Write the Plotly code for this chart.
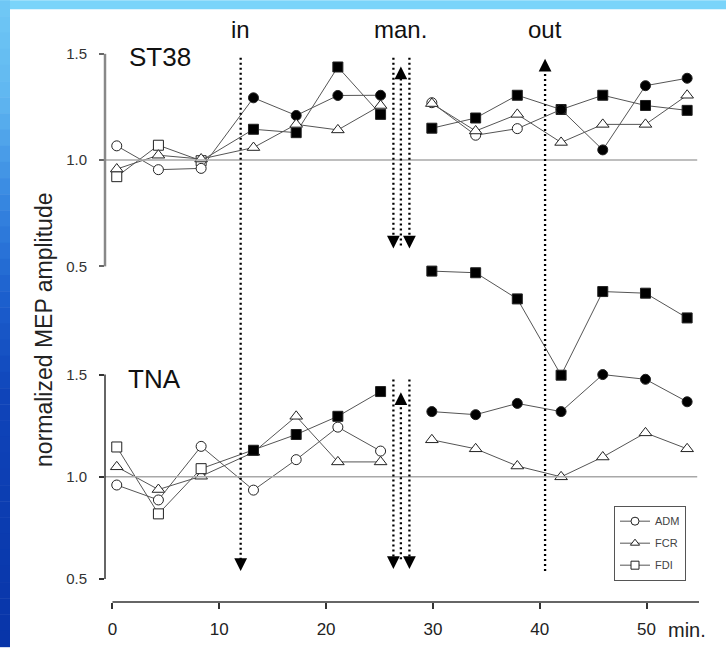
import plotly.graph_objects as go

# ---------------- data ----------------
t_pre = [0.4, 4.3, 8.3, 13.2, 17.2, 21.1, 25.1]
t_post = [29.9, 34.0, 37.9, 42.0, 45.9, 49.9, 53.8]

# ST38 (upper panel)
st38_adm_pre = [1.067, 0.955, 0.961, 1.293, 1.210, 1.304, 1.305]
st38_adm_post = [1.270, 1.117, 1.148, 1.238, 1.048, 1.350, 1.385]
st38_fcr_pre = [0.958, 1.023, 1.005, 1.059, 1.168, 1.142, 1.257]
st38_fcr_post = [1.266, 1.137, 1.215, 1.083, 1.168, 1.168, 1.305]
st38_fdi_pre = [0.922, 1.070, 0.997, 1.145, 1.129, 1.438, 1.215]
st38_fdi_post = [1.150, 1.198, 1.305, 1.238, 1.305, 1.257, 1.234]
st38_adm_sig = [0, 0, 0, 1, 1, 1, 1] + [0, 0, 0, 1, 1, 1, 1]
st38_fcr_sig = [0] * 14
st38_fdi_sig = [0, 0, 0, 1, 1, 1, 1] + [1] * 7

# TNA (lower panel)
tna_adm_pre = [0.960, 0.887, 1.149, 0.935, 1.084, 1.243, 1.126]
tna_adm_post = [1.319, 1.304, 1.359, 1.319, 1.500, 1.477, 1.367]
tna_fcr_pre = [1.049, 0.938, 1.003, 1.120, 1.296, 1.073, 1.073]
tna_fcr_post = [1.181, 1.137, 1.053, 1.000, 1.097, 1.215, 1.137]
tna_fdi_pre = [1.146, 0.819, 1.040, 1.130, 1.207, 1.296, 1.417]
tna_fdi_post = [2.006, 1.998, 1.870, 1.497, 1.906, 1.898, 1.777]
tna_adm_sig = [0] * 7 + [1] * 7
tna_fcr_sig = [0] * 14
tna_fdi_sig = [0, 0, 0, 1, 1, 1, 1] + [1] * 7

muscles = ["ADM", "FCR", "FDI"]
x_ticks = [0, 10, 20, 30, 40, 50]
y_ticks = [0.5, 1.0, 1.5]
event_labels = ["in", "man.", "out"]
event_times = [12.0, 27.0, 40.5]
man_side_times = [26.3, 27.8]

# ---------------- style ----------------
FONT = "Liberation Sans, Arial, sans-serif"
LINE_C = "#555555"
EDGE_C = "#222222"
symbols = {"ADM": "circle", "FCR": "triangle-up", "FDI": "square"}
sizes = {"ADM": 10, "FCR": 11, "FDI": 10}

fig = go.Figure()


def add_series(name, pre, post, sig, yaxis):
    xs = t_pre + [None] + t_post
    ys = pre + [None] + post
    flags = sig[:7] + [0] + sig[7:]
    fig.add_trace(go.Scatter(
        x=xs, y=ys, yaxis=yaxis, mode="lines+markers", connectgaps=False,
        showlegend=False, name=name,
        line=dict(color=LINE_C, width=1),
        marker=dict(symbol=symbols[name], size=sizes[name],
                    color=["black" if f else "white" for f in flags],
                    line=dict(color=EDGE_C, width=1)),
    ))


# ST38 panel (y2), drawing order FDI, ADM, FCR
add_series("FDI", st38_fdi_pre, st38_fdi_post, st38_fdi_sig, "y2")
add_series("ADM", st38_adm_pre, st38_adm_post, st38_adm_sig, "y2")
add_series("FCR", st38_fcr_pre, st38_fcr_post, st38_fcr_sig, "y2")
# TNA panel (y), drawing order FCR, FDI, ADM
add_series("FCR", tna_fcr_pre, tna_fcr_post, tna_fcr_sig, "y")
add_series("FDI", tna_fdi_pre, tna_fdi_post, tna_fdi_sig, "y")
add_series("ADM", tna_adm_pre, tna_adm_post, tna_adm_sig, "y")

# legend entries
for m in muscles:
    fig.add_trace(go.Scatter(
        x=[None], y=[None], mode="lines+markers", name=m, legendgroup=m,
        line=dict(color=LINE_C, width=1),
        marker=dict(symbol=symbols[m], size=8, color="white",
                    line=dict(color=EDGE_C, width=1)),
    ))

# ---------------- layout ----------------
L, R, T, B = 105, 27, 40, 45
W, H = 726, 651
PW, PH = W - L - R, H - T - B


def px_x(px):
    return (px - L) / PW


def px_y(py):
    return (H - B - py) / PH


shapes = []
# blue background bands (gradient approximations)
shapes.append(dict(type="rect", xref="paper", yref="paper", x0=px_x(0), x1=px_x(W),
                   y0=px_y(9), y1=px_y(0), fillcolor="rgb(122,212,250)", line_width=0,
                   layer="below"))
stops = [(0, (112, 200, 245)), (100, (95, 182, 240)), (200, (55, 135, 225)),
         (300, (28, 95, 205)), (400, (15, 68, 185)), (651, (8, 52, 168))]
nstrip = 40
for i in range(nstrip):
    ya, yb = i * H / nstrip, (i + 1) * H / nstrip
    ym = (ya + yb) / 2
    for (s0, c0), (s1, c1) in zip(stops[:-1], stops[1:]):
        if s0 <= ym <= s1:
            f = (ym - s0) / (s1 - s0)
            c = tuple(int(round(a + (b - a) * f)) for a, b in zip(c0, c1))
            break
    shapes.append(dict(type="rect", xref="paper", yref="paper", x0=px_x(0), x1=px_x(10),
                       y0=px_y(yb + 0.5), y1=px_y(ya), fillcolor="rgb(%d,%d,%d)" % c,
                       line_width=0, layer="below"))

# reference lines at 1.0
for yr in ["y", "y2"]:
    shapes.append(dict(type="line", xref="paper", yref=yr, x0=0, x1=0.997, y0=1.0, y1=1.0,
                       line=dict(color="#a8a8a8", width=1.5)))
# y spines
shapes.append(dict(type="line", xref="paper", yref="y2", x0=0, x1=0, y0=0.5, y1=1.5,
                   line=dict(color="#888888", width=2.5)))
shapes.append(dict(type="line", xref="paper", yref="y", x0=0, x1=0, y0=0.5, y1=1.5,
                   line=dict(color="#333333", width=1.5)))
# x axis line
shapes.append(dict(type="line", xref="x", yref="paper", x0=0, x1=54.91, y0=0, y1=0,
                   line=dict(color="#333333", width=1.5)))

DOT = dict(color="black", width=2.3, dash="2px,3px")
t_in, t_man, t_out = event_times
shapes.append(dict(type="line", xref="x", yref="y", x0=t_in, x1=t_in, y0=3.049, y1=0.57,
                   line=DOT))
shapes.append(dict(type="line", xref="x", yref="y", x0=t_out, x1=t_out, y0=0.539, y1=3.01,
                   line=DOT))
for tm in man_side_times:
    shapes.append(dict(type="line", xref="x", yref="y2", x0=tm, x1=tm, y0=1.481, y1=0.62,
                       line=DOT))
    shapes.append(dict(type="line", xref="x", yref="y", x0=tm, x1=tm, y0=1.476, y1=0.58,
                       line=DOT))
shapes.append(dict(type="line", xref="x", yref="y2", x0=t_man, x1=t_man, y0=0.598, y1=1.41,
                   line=DOT))
shapes.append(dict(type="line", xref="x", yref="y", x0=t_man, x1=t_man, y0=0.597, y1=1.38,
                   line=DOT))

annotations = []


def arrow_head(x, y, yref, down):
    annotations.append(dict(x=x, y=y, xref="x", yref=yref, text="", showarrow=True,
                            ax=0, ay=-9 if down else 9, arrowhead=2, arrowsize=1.7,
                            arrowwidth=1.5, arrowcolor="black"))


arrow_head(t_in, 0.539, "y", True)
arrow_head(t_out, 3.044, "y", False)
for tm in man_side_times:
    arrow_head(tm, 0.584, "y2", True)
    arrow_head(tm, 0.549, "y", True)
arrow_head(t_man, 1.44, "y2", False)
arrow_head(t_man, 1.413, "y", False)

for lab, tx in zip(event_labels, event_times):
    annotations.append(dict(x=tx, y=px_y(29), xref="x", yref="paper", text=lab,
                            showarrow=False, font=dict(size=24, color="#111", family=FONT),
                            xanchor="center", yanchor="middle"))

annotations.append(dict(x=px_x(127), y=px_y(57), xref="paper", yref="paper", text="ST38",
                        showarrow=False, xanchor="left", yanchor="middle",
                        font=dict(size=26, color="#111", family=FONT)))
annotations.append(dict(x=px_x(126), y=px_y(381), xref="paper", yref="paper", text="TNA",
                        showarrow=False, xanchor="left", yanchor="middle",
                        font=dict(size=26, color="#111", family=FONT)))
annotations.append(dict(x=px_x(44), y=px_y(332), xref="paper", yref="paper",
                        text="normalized MEP amplitude", textangle=-90, showarrow=False,
                        xanchor="center", yanchor="middle",
                        font=dict(size=23, color="#222", family=FONT)))
annotations.append(dict(x=px_x(666), y=px_y(634), xref="paper", yref="paper", text="min.",
                        showarrow=False, xanchor="left", yanchor="middle",
                        font=dict(size=20, color="#222", family=FONT)))

fig.update_layout(
    width=W, height=H,
    margin=dict(l=L, r=R, t=T, b=B),
    paper_bgcolor="white", plot_bgcolor="rgba(0,0,0,0)",
    font=dict(family=FONT, color="#333"),
    xaxis=dict(range=[-0.70, 54.91], tickvals=x_ticks, ticktext=[str(v) for v in x_ticks],
               ticks="outside", ticklen=6, tickwidth=1.5, tickcolor="#333",
               ticklabelstandoff=6,
               showline=False, showgrid=False, zeroline=False,
               tickfont=dict(size=17, color="#222", family=FONT)),
    yaxis=dict(domain=[0, 1], range=[0.388, 3.136], tickvals=y_ticks,
               ticktext=["%.1f" % v for v in y_ticks], ticks="outside", ticklen=5,
               tickwidth=1.5, tickcolor="#333", showline=False, showgrid=False,
               zeroline=False, ticklabelstandoff=9,
               tickfont=dict(size=15, color="#333", family=FONT)),
    yaxis2=dict(overlaying="y", side="left", range=[-1.079, 1.565], tickvals=y_ticks,
                ticktext=["%.1f" % v for v in y_ticks], ticks="outside", ticklen=5,
                tickwidth=1.5, tickcolor="#666", showline=False, showgrid=False,
                zeroline=False, ticklabelstandoff=9,
                tickfont=dict(size=15, color="#333", family=FONT)),
    legend=dict(x=px_x(614), y=px_y(509), xanchor="left", yanchor="top",
                bordercolor="#555", borderwidth=1, bgcolor="white",
                font=dict(size=11, color="#444", family=FONT), itemwidth=30,
                tracegroupgap=3),
    shapes=shapes, annotations=annotations,
)

fig.write_html("out.html")
